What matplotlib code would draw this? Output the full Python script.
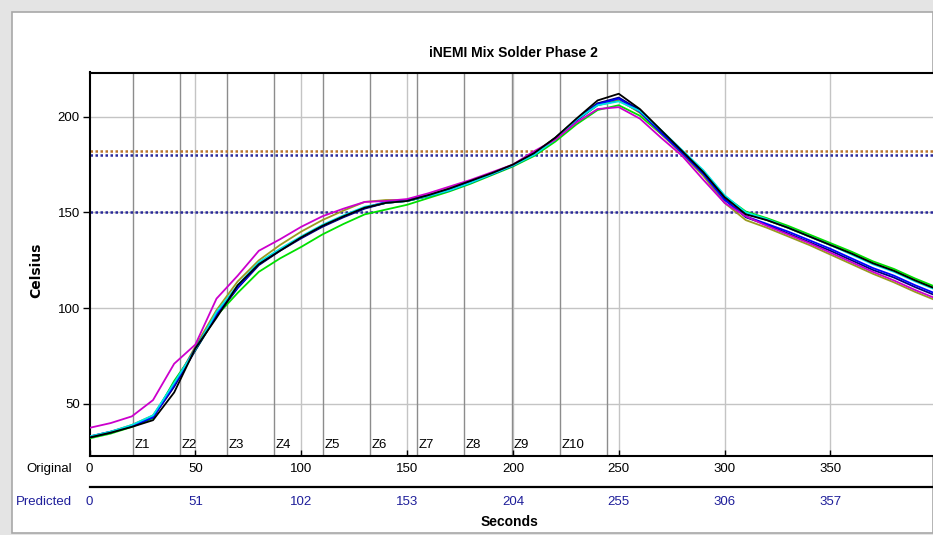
import matplotlib
matplotlib.use("Agg")
import matplotlib.pyplot as plt
from matplotlib.patches import Rectangle
from matplotlib.lines import Line2D
from matplotlib.transforms import blended_transform_factory

# ============================================================
# DATA
# ============================================================

title = "iNEMI Mix Solder Phase 2"

seconds = [0, 10, 20, 30, 40, 50, 60, 70, 80, 90,
           100, 110, 120, 130, 140, 150, 160, 170, 180, 190,
           200, 210, 220, 230, 240, 250, 260, 270, 280, 290,
           300, 310, 320, 330, 340, 350, 360, 370, 380, 390, 400]

temp_black = [32.5, 35, 38, 41.5, 56, 79, 95, 112, 123, 130,
              137, 143, 148, 152.5, 155, 156, 159, 162.5, 166.5, 170.5,
              175, 181, 189, 199, 208.5, 212, 204, 193, 182, 171,
              158, 149, 146, 142, 137.5, 133, 128.5, 123.5, 119.5, 114.5, 110]
temp_magenta = [37.5, 40, 43.5, 52, 71, 81, 105, 117, 130, 136,
                142.5, 148, 152, 155.5, 156, 157, 160, 163.5, 167, 171,
                175, 182, 188, 197, 204, 205, 199, 189, 179.5, 167,
                155, 148, 143, 138.5, 134, 129, 124, 119, 114.5, 109.5, 105]
temp_lime = [32, 34.5, 38, 42.5, 62, 78, 96, 108, 119, 126,
             132, 138.5, 144, 149, 151.5, 154, 157.5, 161, 165, 169.5,
             174, 179.5, 187, 196, 203.5, 206, 200.5, 191, 181.5, 171,
             158.5, 150.5, 147, 143, 138.5, 134, 129.5, 124.5, 120.5, 115.5, 111]
temp_cyan = [33, 35.5, 39, 44, 61, 78.5, 98, 112, 124, 131,
             137.5, 143.5, 148.5, 153, 155, 156, 158.5, 161.5, 165.5, 170,
             174.5, 180, 188, 198.5, 206, 208, 203, 193, 182.5, 172,
             159, 150, 146.5, 142, 137.5, 133, 128, 123, 119, 114, 109.5]
temp_blue = [33, 35.5, 38.5, 43, 60, 79, 97, 111, 123, 130.5,
             137, 143, 148, 152.5, 155.5, 156.5, 159, 162, 166, 170,
             174.5, 180.5, 188.5, 198, 206.5, 209.5, 202.5, 191.5, 181, 170,
             156.5, 148, 144, 140, 135.5, 131, 126, 121, 117, 112, 107.5]
temp_navy = [32.5, 35, 38.5, 43, 59, 78, 96, 110.5, 122.5, 130,
             136.5, 142.5, 147.5, 152, 155, 156, 158.5, 161.5, 165.5, 170,
             174.5, 180.5, 189, 198.5, 207, 210, 203.5, 192, 181.5, 170.5,
             157, 147.5, 143.5, 139, 134.5, 130, 125, 120, 116, 111, 106.5]
temp_olive = [33, 35.5, 39, 44, 60, 80, 99, 114, 125, 133,
              140, 146, 151, 155.5, 156.5, 156.5, 159, 162.5, 166.5, 170.5,
              175, 181, 189, 198.5, 207, 209, 202, 191, 180.5, 169,
              155, 146, 142, 137.5, 133, 128, 123, 118, 113.5, 108.5, 104]
temp_green = [32.5, 35, 38.5, 43.5, 61, 78.5, 97, 111, 123.5, 130.5,
              137, 143, 148, 152.5, 155, 156, 158.5, 162, 166, 170,
              174.5, 180, 188, 198, 206, 208.5, 202.5, 192, 182, 171.5,
              158.5, 149.5, 146, 142, 137.5, 133, 128.5, 123.5, 119.5, 114.5, 110]

series = [
    ("#00e000", temp_lime),
    ("#008c00", temp_green),
    ("#9a9a20", temp_olive),
    ("#000080", temp_navy),
    ("#0000ff", temp_blue),
    ("#00e5e5", temp_cyan),
    ("#cc00cc", temp_magenta),
    ("#000000", temp_black),
]

zone_bounds = [20.4, 42.9, 64.8, 87.3, 110.2, 132.5, 154.8, 176.9, 199.4, 222.3, 244.3]
zone_labels = ["Z1", "Z2", "Z3", "Z4", "Z5", "Z6", "Z7", "Z8", "Z9", "Z10"]

orig_ticks = [0, 50, 100, 150, 200, 250, 300, 350]
pred_labels = ["0", "51", "102", "153", "204", "255", "306", "357"]
y_ticks = [50, 100, 150, 200]

liquidus = 182
limit_lines = [180, 150]

# ============================================================
# PLOT
# ============================================================

plt.rcParams["font.family"] = ["Liberation Sans", "DejaVu Sans"]

W, H = 933, 535
fig = plt.figure(figsize=(W / 100, H / 100), dpi=100, facecolor="#e4e4e4")

# window panel behind everything
fig.patches.append(Rectangle((12 / W, 2 / H), 1 - 12 / W, (H - 14) / H,
                             transform=fig.transFigure, facecolor="white",
                             edgecolor="#a8a8a8", linewidth=1.2, zorder=-10))

left_px, right_px, top_px, bot_px = 89.5, 936.3, 72.5, 456
ax = fig.add_axes([left_px / W, 1 - bot_px / H,
                   (right_px - left_px) / W, (bot_px - top_px) / H])
ax.set_facecolor("white")
ax.set_xlim(0, 400)
ax.set_ylim(22.8, 223.1)

# grid
for v in orig_ticks[1:]:
    ax.axvline(v, color="#c4c4c4", linewidth=1.0, zorder=1)
for v in y_ticks:
    ax.axhline(v, color="#c4c4c4", linewidth=1.0, zorder=1)
for v in zone_bounds:
    ax.axvline(v, color="#8c8c8c", linewidth=1.0, zorder=1)
for v, lab in zip(zone_bounds, zone_labels):
    ax.text(v + 0.8, 25.5, lab, fontsize=9.5, ha="left", va="bottom", zorder=2)

# reference lines
ax.axhline(liquidus, color="#b8742c", linestyle=(0, (1, 1)), linewidth=1.8, zorder=2)
for v in limit_lines:
    ax.axhline(v, color="#2a2a9a", linestyle=(0, (1, 1)), linewidth=1.8, zorder=2)

# profiles
for color, temps in series:
    ax.plot(seconds, temps, color=color, linewidth=1.3, zorder=3)

for s in ["left", "top", "bottom"]:
    ax.spines[s].set_linewidth(1.5)
ax.spines["right"].set_visible(False)

ax.set_yticks(y_ticks)
ax.set_yticklabels([str(v) for v in y_ticks], fontsize=9.5)
ax.tick_params(axis="y", direction="out", length=5, width=1, pad=2)
ax.set_xticks(orig_ticks)
ax.set_xticklabels([])
ax.tick_params(axis="x", direction="in", length=4, width=1)

ax.set_title(title, fontsize=10, fontweight="bold", pad=11)

# x label rows below the plot
trans = blended_transform_factory(ax.transData, fig.transFigure)
for v in orig_ticks:
    ax.text(v, 1 - 469 / H, str(v), transform=trans, fontsize=9.5,
            ha="center", va="center", clip_on=False)
for v, lab in zip(orig_ticks, pred_labels):
    ax.text(v, 1 - 502 / H, lab, transform=trans, fontsize=9.5,
            ha="center", va="center", color="#1e1e9a", clip_on=False)

fig.lines.append(Line2D([left_px / W, 1], [1 - 486.5 / H] * 2,
                        transform=fig.transFigure, color="black", linewidth=1.6))
fig.text(72 / W, 1 - 469 / H, "Original", fontsize=9.5, ha="right", va="center")
fig.text(72 / W, 1 - 502 / H, "Predicted", fontsize=9.5, ha="right", va="center",
         color="#1e1e9a")
fig.text(510 / W, 1 - 522 / H, "Seconds", fontsize=10, fontweight="bold",
         ha="center", va="center")
fig.text(36 / W, 1 - 270 / H, "Celsius", fontsize=10, fontweight="bold",
         rotation=90, ha="center", va="center", family="DejaVu Sans")

fig.savefig("out.png", dpi=100, facecolor=fig.get_facecolor())
